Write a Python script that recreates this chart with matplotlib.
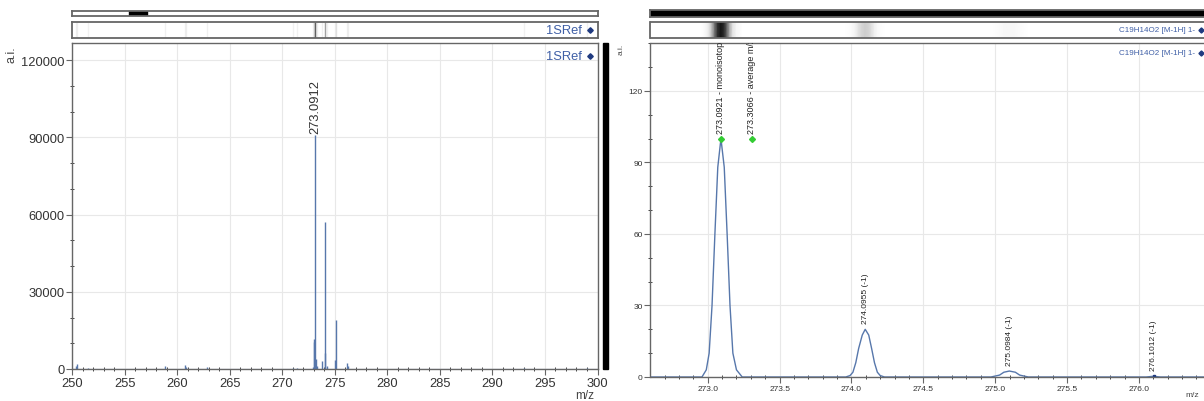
import numpy as np
import matplotlib
matplotlib.use('Agg')
from matplotlib import pyplot as plt
from matplotlib.colors import PowerNorm
from matplotlib.ticker import MultipleLocator, FormatStrFormatter

plt.rcParams['font.family'] = ['Liberation Sans', 'DejaVu Sans']

# Left panel: full spectrum (m/z, intensity)
full_mz = [250.3, 250.45, 251.5, 258.8, 260.75, 260.85, 262.8, 271.0, 271.4, 272.9,
           273.02, 273.05, 273.0912, 273.15, 273.3, 273.8, 274.05, 274.0945, 274.2,
           275.05, 275.0978, 276.15, 276.2, 293.0, 299.0]
full_int = [1200, 1800, 300, 1000, 1500, 900, 700, 300, 500, 900,
            10500, 11700, 91000, 4000, 1000, 3200, 6200, 57000, 1200,
            3600, 19000, 2200, 1000, 300, 500]
full_label = '273.0912'
full_label_mz = 273.0912
full_label_int = 91000

# Right panel: isotope pattern profile (m/z, relative intensity)
iso_mz = [272.60, 272.96, 272.99, 273.01, 273.03, 273.05, 273.07, 273.092, 273.115, 273.135,
          273.155, 273.175, 273.20, 273.24, 273.96, 273.99, 274.01, 274.03, 274.05, 274.075,
          274.0955, 274.12, 274.14, 274.16, 274.18, 274.20, 274.23, 274.97, 275.03, 275.06,
          275.098, 275.14, 275.17, 275.23, 276.05, 276.10, 276.15, 276.50]
iso_int = [0, 0, 3, 10, 30, 60, 88, 100, 88, 60,
           30, 10, 3, 0, 0, 0.6, 2, 6, 12, 17.6,
           20, 17.6, 12, 6, 2, 0.6, 0, 0, 0.8, 2,
           2.5, 2, 0.8, 0, 0, 0.3, 0, 0]

# green reference markers
ref_mz = [273.0921, 273.3066]
ref_int = [100, 100]
ref_labels = ['273.0921 - monoisotopic', '273.3066 - average m/z']

# isotope peak labels
iso_peak_mz = [274.0955, 275.0984, 276.1012]
iso_peak_int = [20, 2.5, 0.3]
iso_peak_labels = ['274.0955 (-1)', '275.0984 (-1)', '276.1012 (-1)']

W, H = 1204, 402
LINE = '#5777ab'
SPINE = '#666666'
GRID = '#e8e8e8'
BLUE_TXT = '#3f5fa6'
NAVY = '#1f3a80'


def box(x0, y0, x1, y1):
    # pixel box (top-left origin) -> figure fraction rect
    return [x0 / W, 1 - y1 / H, (x1 - x0) / W, (y1 - y0) / H]


def style_strip(ax):
    ax.set_xticks([])
    ax.set_yticks([])
    for s in ax.spines.values():
        s.set_color(SPINE)
        s.set_linewidth(1.3)


def style_main(ax, size):
    for s in ax.spines.values():
        s.set_color(SPINE)
        s.set_linewidth(1.0)
    ax.grid(True, which='major', color=GRID, lw=0.8)
    ax.set_axisbelow(True)
    ax.tick_params(which='major', direction='out', length=4, width=0.8, color=SPINE,
                   labelsize=size, labelcolor='#333333', pad=1.5)
    ax.tick_params(which='minor', direction='inout', length=3, width=0.7, color='#444444')


fig = plt.figure(figsize=(W / 100, H / 100), dpi=100)

# ---------------- left panel ----------------
xl = (250, 300)
ax_top = fig.add_axes(box(72.4, 12, 597.5, 17))
style_strip(ax_top)
ax_top.set_xlim(0, 1)
ax_top.axvspan(0.1075, 0.1418, color='black')

ax_s = fig.add_axes(box(72.4, 22.7, 597.5, 39))
style_strip(ax_s)
ax_s.set_xlim(*xl)
ax_s.set_ylim(0, 1)
mx = max(full_int)
cols = [(0.3, 0.3, 0.3, 0.08 + 0.8 * (v / mx) ** 1.5) for v in full_int]
ax_s.vlines(full_mz, 0, 1, colors=cols, lw=1.0)
ax_s.text(0.97, 0.5, '1SRef', transform=ax_s.transAxes, ha='right', va='center',
          fontsize=9.3, color=BLUE_TXT)
ax_s.plot([0.986], [0.5], 'D', ms=2.8, color=NAVY, transform=ax_s.transAxes, clip_on=False)

ax = fig.add_axes(box(72.4, 44.3, 597.5, 370))
style_main(ax, 9.3)
ax.vlines(full_mz, 0, full_int, colors=LINE, lw=1.0)
ax.plot(xl, [0, 0], color=LINE, lw=0.8)
ax.set_xlim(*xl)
ax.set_ylim(0, 126600)
ax.xaxis.set_major_locator(MultipleLocator(5))
ax.xaxis.set_minor_locator(MultipleLocator(1))
ax.yaxis.set_major_locator(MultipleLocator(30000))
ax.yaxis.set_minor_locator(MultipleLocator(10000))
ax.text(full_label_mz, full_label_int + 800, full_label, rotation=90, ha='center', va='bottom',
        fontsize=9.3, color='#333333')
ax.text(0.97, 0.961, '1SRef', transform=ax.transAxes, ha='right', va='center',
        fontsize=9.3, color=BLUE_TXT)
ax.plot([0.986], [0.961], 'D', ms=2.8, color=NAVY, transform=ax.transAxes, clip_on=False)
fig.text(11.5 / W, 1 - 55 / H, 'a.i.', rotation=90, ha='center', va='center',
         fontsize=9, color='#444444')
fig.text(585 / W, 1 - 396 / H, 'm/z', ha='center', va='center', fontsize=8.5, color='#444444')

# intensity bar between panels
fig.add_artist(plt.Rectangle((602.7 / W, 1 - 370 / H), 5.6 / W, (370 - 44.3) / H,
                             transform=fig.transFigure, color='black'))

# ---------------- right panel ----------------
xr = (272.602, 276.48)
ax_top2 = fig.add_axes(box(650.5, 11, 1208, 17.5))
style_strip(ax_top2)
ax_top2.set_facecolor('black')

ax_s2 = fig.add_axes(box(650.5, 22.7, 1208, 38.8))
style_strip(ax_s2)
ax_s2.pcolormesh(np.array(iso_mz), np.array([0, 1]), np.vstack([iso_int, iso_int]),
                 shading='gouraud', cmap='Greys', norm=PowerNorm(0.7, vmin=0, vmax=112))
ax_s2.set_xlim(*xr)
ax_s2.set_ylim(0, 1)
ax_s2.text(0.976, 0.5, 'C19H14O2 [M-1H] 1-', transform=ax_s2.transAxes, ha='right', va='center',
           fontsize=5.8, color=BLUE_TXT)
ax_s2.plot([0.987], [0.5], 'D', ms=2.6, color=NAVY, transform=ax_s2.transAxes, clip_on=False)

ax2 = fig.add_axes(box(650.5, 44.3, 1208, 378))
style_main(ax2, 6)
ax2.plot(iso_mz, iso_int, color=LINE, lw=1.0)
ax2.set_xlim(*xr)
ax2.set_ylim(0, 140)
ax2.xaxis.set_major_locator(MultipleLocator(0.5))
ax2.xaxis.set_minor_locator(MultipleLocator(0.1))
ax2.xaxis.set_major_formatter(FormatStrFormatter('%.1f'))
ax2.yaxis.set_major_locator(MultipleLocator(30))
ax2.yaxis.set_minor_locator(MultipleLocator(10))
ax2.plot(ref_mz, ref_int, 'D', ms=3, color='#33cc33', zorder=5)
for m, v, t in zip(ref_mz, ref_int, ref_labels):
    ax2.text(m, v + 2.5, t, rotation=90, ha='center', va='bottom', fontsize=6.5,
             color='#222222', clip_on=True)
for m, v, t in zip(iso_peak_mz, iso_peak_int, iso_peak_labels):
    ax2.text(m, v + 2.5, t, rotation=90, ha='center', va='bottom', fontsize=6,
             color='#222222', clip_on=True)
ax2.plot([iso_peak_mz[-1]], [iso_peak_int[-1]], 's', ms=2, color=NAVY)
ax2.text(0.976, 0.971, 'C19H14O2 [M-1H] 1-', transform=ax2.transAxes, ha='right', va='center',
         fontsize=5.8, color=BLUE_TXT)
ax2.plot([0.987], [0.971], 'D', ms=2.6, color=NAVY, transform=ax2.transAxes, clip_on=False)
fig.text(621.5 / W, 1 - 49 / H, 'a.i.', rotation=90, ha='center', va='center',
         fontsize=6, color='#444444')
fig.text(1192 / W, 1 - 396 / H, 'm/z', ha='center', va='center', fontsize=6, color='#444444')

fig.savefig('out.png', dpi=100)
